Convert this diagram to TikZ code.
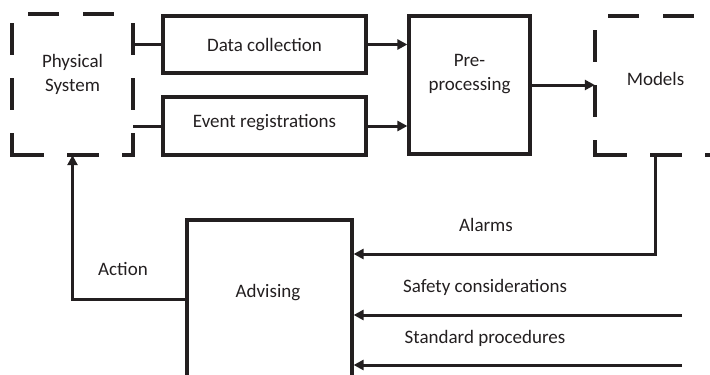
\documentclass[tikz,border=0pt]{standalone}
\usepackage{fontspec}
\setmainfont{Carlito}
\usetikzlibrary{arrows.meta}
\definecolor{ink}{HTML}{231F20}
\begin{document}
\begin{tikzpicture}[x=1pt,y=-1pt,
  every node/.style={font=\fontsize{19}{24}\selectfont, text=ink},
  box/.style={draw=ink, line width=3.2pt, rectangle, inner sep=0pt},
  ghost/.style={rectangle, inner sep=0pt},
  dside/.style={draw=ink, line width=3.6pt, line cap=rect, dash pattern=on 28pt off 27pt},
  conn/.style={draw=ink, line width=3pt},
  arr/.style={conn, -{Triangle[length=10pt,width=10pt]}},
  lbl/.style={anchor=base, inner sep=0pt},
  ml/.style={align=center, inner sep=0pt}]
\useasboundingbox (0,0) rectangle (710,375);
\clip (0,0) rectangle (710,375);
% Physical System (dashed)
\node[ghost, minimum width=121pt, minimum height=141pt] (ps) at (72.5,84.5) {};
\draw[dside, dash phase=7.75pt] (ps.south west) -- (ps.north west);
\draw[dside, dash phase=37.25pt] (ps.north west) -- (ps.north east);
\draw[dside, dash phase=53pt] (ps.south west) -- (ps.south east);
\draw[dside, dash phase=7.75pt] (ps.south east) -- (ps.north east);
\node[ml] (pst) at (72.5,74) {Physical\\System};
% Models (dashed)
\node[ghost, minimum width=121pt, minimum height=139pt] (mo) at (655.5,85.5) {};
\draw[dside, dash phase=14.75pt] (mo.south west) -- (mo.north west);
\draw[dside, dash phase=40.25pt] (mo.north west) -- (mo.north east);
\draw[dside, dash phase=52.75pt] (mo.south west) -- (mo.south east);
\draw[dside, dash phase=14.75pt] (mo.south east) -- (mo.north east);
\node[lbl] (mot) at (655.5,85) {Models};
% Boxes
\node[box, minimum width=203pt, minimum height=57pt] (dc) at (264.5,44.5) {};
\node[lbl] (dct) at (264.5,51) {Data collection};
\node[box, minimum width=203pt, minimum height=58pt] (er) at (264.5,126) {};
\node[lbl] (ert) at (264.5,127) {Event registrations};
\node[box, minimum width=121pt, minimum height=138pt] (pp) at (469.5,85) {};
\node[ml] (ppt) at (469.5,74) {Pre-\\processing};
\node[box, minimum width=165pt, minimum height=180pt] (adv) at (269.5,310) {};
\node[lbl] (advt) at (268,297) {Advising};
% Labels
\node[lbl] (act) at (123,275) {Action};
\node[lbl] (alt) at (486,231) {Alarms};
\node[lbl] (sft) at (485,292) {Safety considerations};
\node[lbl] (spt) at (485,343) {Standard procedures};
% Connectors
\draw[conn] (ps.east |- dc.west) -- (dc.west);
\draw[conn] (ps.east |- er.west) -- (er.west);
\draw[arr] (dc.east) -- (pp.west |- dc.east);
\draw[arr] (er.east) -- (pp.west |- er.east);
\draw[arr] (pp.east) -- (mo.west |- pp.east);
\coordinate (alc) at (656,254);
\draw[arr] (mo.south) |- (adv.east |- alc);
\coordinate (sfc) at (682,315);
\draw[arr] (sfc) -- (adv.east |- sfc);
\coordinate (spc) at (682,365);
\draw[arr] (spc) -- (adv.east |- spc);
\coordinate (acc) at (0,299);
\draw[arr] (adv.west |- acc) -| (ps.south);
\end{tikzpicture}
\end{document}
